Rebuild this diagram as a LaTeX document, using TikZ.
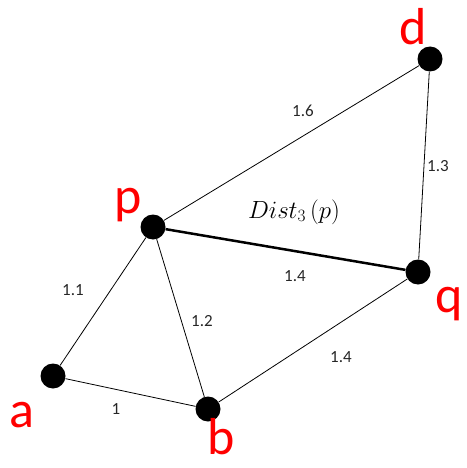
\documentclass[tikz,border=0pt]{standalone}
\usepackage{fontspec}
\setmainfont{Carlito}
\tikzset{
  vertex/.style={circle,fill=black,inner sep=0pt,minimum size=25pt},
  vname/.style={text=red,inner sep=0pt,font=\fontsize{52}{52}\selectfont},
  weight/.style={inner sep=0pt,text=black!85,font=\fontsize{17}{17}\selectfont},
  edge/.style={line width=0.8pt},
}
\begin{document}
\begin{tikzpicture}[x=1pt,y=-1pt]

        \useasboundingbox (0,0) rectangle (466,468);

        % Vertices
        \node[vertex] (p) at (153,227) {};
        \node[vertex] (d) at (430,59) {};
        \node[vertex] (q) at (418,272) {};
        \node[vertex] (a) at (53,376) {};
        \node[vertex] (b) at (208,409) {};

        % Names
        \node[vname] (np) at (128,205) {p};
        \node[vname] (nd) at (413,27) {d};
        \node[vname] (nq) at (449,304) {q};
        \node[vname] (na) at (22,415) {a};
        \node[vname] (nb) at (221,437) {b};

        % Edges
        \draw[edge] (p) -- (d);
        \draw[edge] (d) -- (q);
        \draw[line width=2.5pt] (p) -- (q);
        \draw[edge] (p) -- (a);
        \draw[edge] (p) -- (b);
        \draw[edge] (a) -- (b);
        \draw[edge] (b) -- (q);

        % Weights
        \node[weight] (wpd) at (303,111) {1.6};
        \node[weight] (wdq) at (438,166) {1.3};
        \node[weight] (wpq) at (295,276) {1.4};
        \node[weight] (wpa) at (73,290) {1.1};
        \node[weight] (wpb) at (202,321) {1.2};
        \node[weight] (wbq) at (341,357) {1.4};
        \node[weight] (wab) at (116,409) {1};

        % Distance
        \node[inner sep=0pt,font=\fontsize{26}{26}\selectfont] (dist) at (294,212) {$Dist_3\,(p)$};

    \end{tikzpicture}
\end{document}
